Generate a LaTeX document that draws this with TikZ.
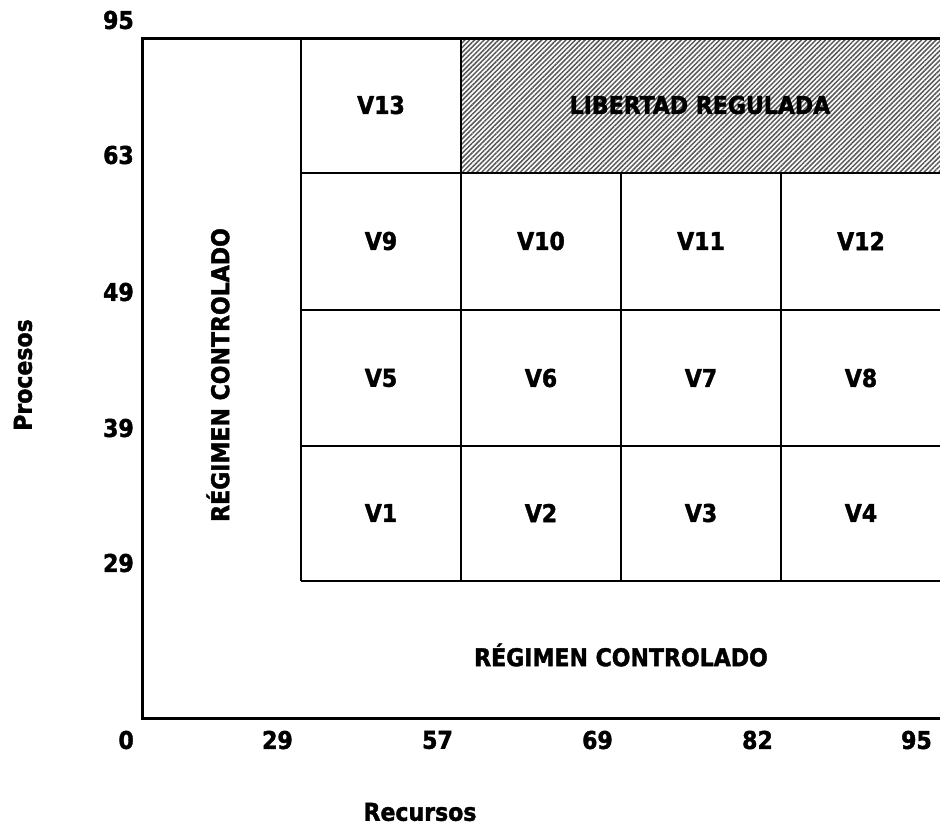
\documentclass[tikz,border=0pt]{standalone}
\usepackage{fontspec}
\setmainfont{DejaVu Sans Condensed}[BoldFeatures={FakeBold=1.6}]
\usetikzlibrary{patterns.meta}

\begin{document}
\begin{tikzpicture}[
    x=1pt, y=-1pt,
    font=\bfseries\fontsize{24.5}{28}\selectfont,
    axis/.style={line width=3pt, line cap=rect},
    grid line/.style={line width=2pt},
    cell/.style={inner sep=0pt},
    ytick/.style={anchor=east, inner sep=0pt},
    xtick/.style={anchor=east, inner sep=0pt},
    hatch/.style={pattern={Lines[angle=45, distance=3.4pt, line width=1.5pt]}, pattern color=black!65}
]
\useasboundingbox (0,0) rectangle (940,827);

% Hatched zone
\fill[white] (461,38) rectangle (940,173);
\fill[hatch] (461,38) rectangle (940,173);

% Grid of cells
\draw[grid line] (301,38) -- (301,581);
\draw[grid line] (461,38) -- (461,581);
\foreach \x in {621,781}
    \draw[grid line] (\x,173) -- (\x,581);
\foreach \y in {173,310,446,581}
    \draw[grid line] (301,\y) -- (940,\y);

% Axes
\draw[axis] (940,38) -- (142,38) -- (142,718) -- (940,718);

% Cell labels
\foreach \lab/\x/\y in {V1/381/513, V2/541/513, V3/701/513, V4/861/513,
                        V5/381/378, V6/541/378, V7/701/378, V8/861/378,
                        V9/381/241, V10/541/241, V11/701/241, V12/861/241,
                        V13/381/105}
    \node[cell] (\lab) at (\x,\y) {\lab};
\node[cell] (libre) at (700,105) {LIBERTAD REGULADA};

% Zones
\node[cell, rotate=90] (regv) at (218,375) {RÉGIMEN CONTROLADO};
\node[cell] (regh) at (621,655) {RÉGIMEN CONTROLADO};

% Ticks
\foreach \v/\y in {95/38, 63/173, 49/310, 39/446, 29/581}
    \node[ytick] (y\v) at (134,\y-18) {\v};
\foreach \v/\x in {0/142, 29/301, 57/461, 69/621, 82/781, 95/940}
    \node[xtick] (x\v) at (\x-8,740) {\v};

% Axis titles
\node[cell] (recursos) at (420,812) {Recursos};
\node[cell, rotate=90] (procesos) at (23,375) {Procesos};

\end{tikzpicture}
\end{document}
